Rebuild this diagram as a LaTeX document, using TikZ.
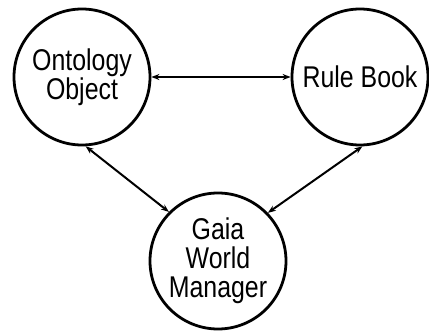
\documentclass[tikz,border=0pt]{standalone}
\usepackage{fontspec}
\setmainfont[FakeStretch=0.83]{Liberation Sans}
\usetikzlibrary{arrows.meta}
\tikzset{
  entity/.style={circle, draw=black, line width=2.8pt, minimum size=136pt,
    inner sep=0pt, align=center, font=\fontsize{30}{29}\selectfont},
  link/.style={line width=2pt, {Stealth[length=8pt,width=6pt]}-{Stealth[length=8pt,width=6pt]}}
}
\begin{document}
\begin{tikzpicture}[x=1pt,y=-1pt]
\useasboundingbox (0,0) rectangle (429,330);
\node[entity] (onto) at (82,77) {Ontology\\Object};
\node[entity] (rule) at (360,77) {Rule Book};
\node[entity] (gaia) at (218,261) {Gaia\\World\\Manager};
\draw[link] (onto.east) -- (rule.west);
\draw[link] (onto.-87) -- (gaia.135);
\draw[link] (rule.-88) -- (gaia.44);
\end{tikzpicture}
\end{document}
